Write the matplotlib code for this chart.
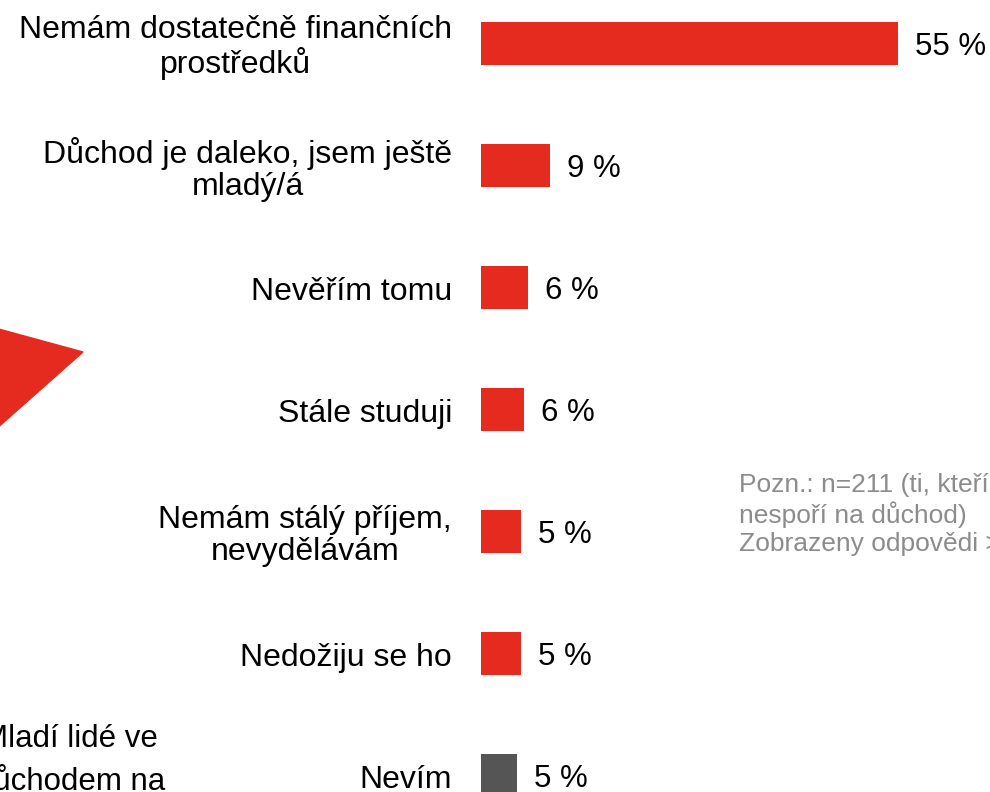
import numpy as np
import matplotlib
matplotlib.use("Agg")
import matplotlib.pyplot as plt
from matplotlib.patches import Polygon

plt.rcParams['font.family'] = ['Liberation Sans', 'DejaVu Sans']

# === Data ===
kategorie = [
    "Nemám dostatečně finančních\nprostředků",
    "Důchod je daleko, jsem ještě\nmladý/á",
    "Nevěřím tomu",
    "Stále studuji",
    "Nemám stálý příjem,\nnevydělávám",
    "Nedožiju se ho",
    "Nevím",
]
hodnoty = [55.0, 9.1, 6.2, 5.7, 5.3, 5.3, 4.8]
barvy = ["#E52A1F"] * 6 + ["#555555"]

poznamka = "Pozn.: n=211 (ti, kteří\nnespoří na důchod)\nZobrazeny odpovědi > 4 %"

W, H = 990, 792
fig = plt.figure(figsize=(W / 100, H / 100), dpi=100)

# osa: x=0 na 481 px, 7.587 px na procento; stred 1. sloupce 43.7 px od shora, krok 122 px
x0_px = 481
px_per_pct = 7.587
ax = fig.add_axes([x0_px / W, 0, (W - x0_px) / W, 1])
ax.set_xlim(0, (W - x0_px) / px_per_pct)
ax.set_ylim((H - 43.7) / 122, -43.7 / 122)
ax.axis("off")

y = np.arange(len(kategorie))
ax.barh(y, hodnoty, height=0.35, color=barvy)

for i, (k, v) in enumerate(zip(kategorie, hodnoty)):
    ax.annotate(k, (0, i), xytext=(-29, -4), textcoords="offset pixels",
                ha="right", va="center", multialignment="center",
                fontsize=23, color="#000000", linespacing=1.08)
    ax.annotate(f"{v:.0f} %", (v, i), xytext=(17, 0), textcoords="offset pixels",
                ha="left", va="center_baseline", fontsize=22.5, color="#000000")

# dekorace vlevo - cerveny trojuhelnik
tri = Polygon([[-5 / W, 1 - 328 / H], [83 / W, 1 - 352 / H], [-5 / W, 1 - 430 / H]],
              closed=True, transform=fig.transFigure, color="#E52A1F", zorder=0)
fig.patches.append(tri)

# useknuty text vlevo dole
fig.text(158 / W, 1 - 747 / H, "Mladí lidé ve", ha="right", va="baseline", fontsize=22.5)
fig.text(165 / W, 1 - 790 / H, "důchodem na", ha="right", va="baseline", fontsize=22.5)

# poznamka vpravo (baseline = posledni radek)
fig.text(739 / W, 1 - 551 / H, poznamka, ha="left", va="baseline", fontsize=19,
         color="#8C8C8C", linespacing=1.2)

fig.savefig("out.png", dpi=100)
